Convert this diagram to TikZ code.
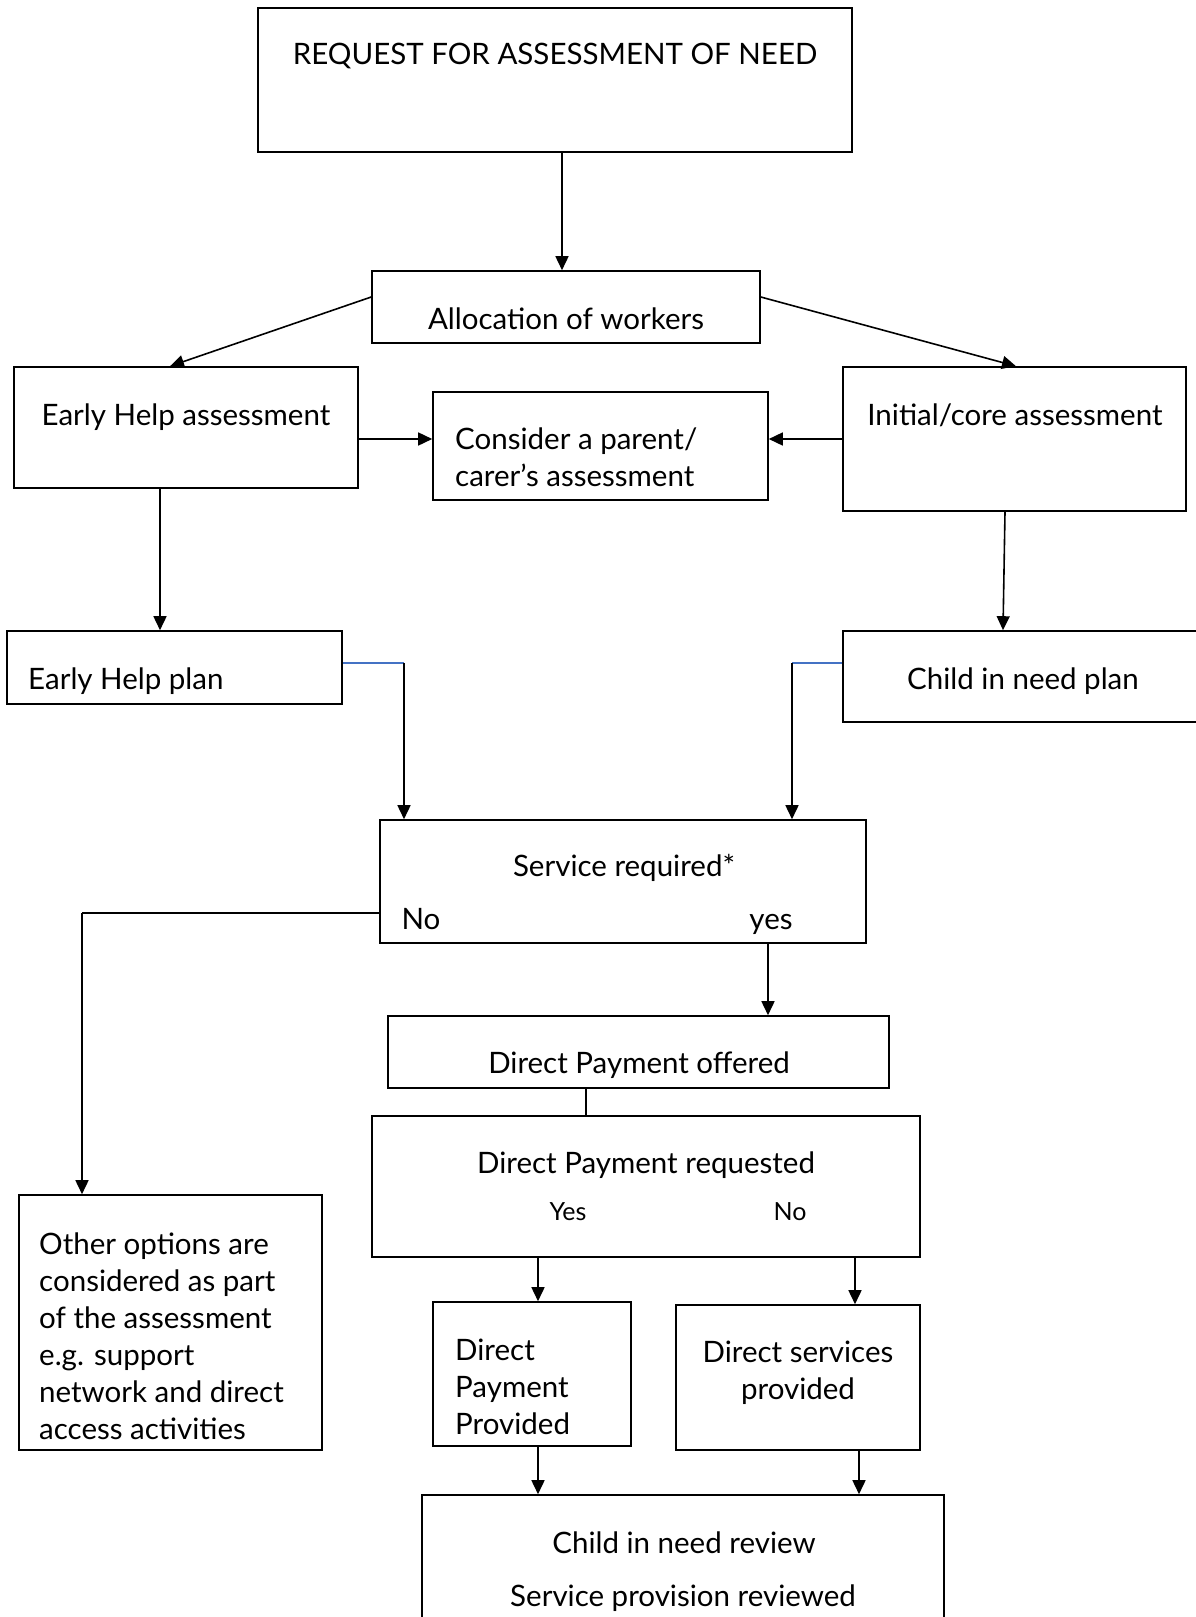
\documentclass[tikz,border=0pt]{standalone}
\usepackage{fontspec}
\setmainfont{Lato}
\usetikzlibrary{arrows.meta}
\definecolor{lblue}{HTML}{4472C4}
\begin{document}
\begin{tikzpicture}[x=1pt,y=-1pt,
  box/.style={draw, line width=1.6pt, inner sep=0pt},
  txt/.style={inner sep=0pt, font=\fontsize{29.5}{37}\selectfont},
  small/.style={inner sep=0pt, font=\fontsize{25}{30}\selectfont},
  ln/.style={line width=1.6pt},
  arr/.style={line width=1.6pt, -{Triangle[width=13pt,length=14pt]}},
  bl/.style={line width=1.6pt, lblue}]
\useasboundingbox (0,0) rectangle (1196,1617);
% boxes
\node[box, minimum width=594pt, minimum height=144pt] (top) at (555,80) {};
\node[box, minimum width=388pt, minimum height=72pt] (alloc) at (566,307) {};
\node[box, minimum width=344pt, minimum height=121pt] (eha) at (186,427.5) {};
\node[box, minimum width=335pt, minimum height=108pt] (cons) at (600.5,446) {};
\node[box, minimum width=343pt, minimum height=144pt] (ica) at (1014.5,439) {};
\node[box, minimum width=335pt, minimum height=73pt] (ehp) at (174.5,667.5) {};
\node[box, minimum width=387pt, minimum height=91pt] (cinp) at (1036.5,676.5) {};
\node[box, minimum width=486pt, minimum height=123pt] (svc) at (623,881.5) {};
\node[box, minimum width=501pt, minimum height=72pt] (dpo) at (638.5,1052) {};
\node[box, minimum width=548pt, minimum height=141pt] (dpr) at (646,1186.5) {};
\node[box, minimum width=303pt, minimum height=255pt] (other) at (170.5,1322.5) {};
\node[box, minimum width=198pt, minimum height=144pt] (dpp) at (532,1374) {};
\node[box, minimum width=244pt, minimum height=145pt] (dsp) at (798,1377.5) {};
\node[box, minimum width=522pt, minimum height=145pt] (rev) at (683,1567.5) {};
% texts
\node[txt] (ttop) at (555,56) {REQUEST FOR ASSESSMENT OF NEED};
\node[txt] (talloc) at (566,319) {Allocation of workers};
\node[txt] (teha) at (186,417) {Early Help assessment};
\node[txt, anchor=west, align=left] (tcons) at (455,457) {Consider a parent/\\carer’s assessment};
\node[txt] (tica) at (1015,415) {Initial/core assessment};
\node[txt, anchor=west] (tehp) at (28,681) {Early Help plan};
\node[txt] (tcinp) at (1023,681) {Child in need plan};
\node[txt] (tsvc) at (624,868) {Service required*};
\node[txt] (tno) at (421,919) {No};
\node[txt] (tyes) at (771,924) {yes};
\node[txt] (tdpo) at (639,1065) {Direct Payment offered};
\node[txt] (tdpr) at (646,1165) {Direct Payment requested};
\node[small] (tyes2) at (568,1212) {Yes};
\node[small] (tno2) at (790,1212) {No};
\node[txt, anchor=west, align=left] (tother) at (39,1336) {Other options are\\considered as part\\of the assessment\\e.g. support\\network and direct\\access activities};
\node[txt, anchor=west, align=left] (tdpp) at (455,1387) {Direct\\Payment\\Provided};
\node[txt, align=center] (tdsp) at (798,1373) {Direct services\\provided};
\node[txt] (trev1) at (684,1543) {Child in need review};
\node[txt] (trev2) at (683,1598) {Service provision reviewed};
% connectors
\draw[arr] ([xshift=7pt]top.south) -- ([xshift=-4pt]alloc.north);
\draw[arr] ([yshift=10pt]alloc.west) -- ([xshift=-16pt]eha.north);
\draw[arr] ([yshift=10pt]alloc.east) -- ([xshift=1.5pt]ica.north);
\draw[arr] ([yshift=-11.5pt]eha.east) -- ([yshift=7pt]cons.west);
\draw[arr] (ica.west) -- ([yshift=7pt]cons.east);
\coordinate (p1) at ([xshift=-26pt]eha.south);
\draw[arr] (p1) -- (p1 |- ehp.north);
\draw[arr] ([xshift=-9.5pt]ica.south) -- ([xshift=-33.5pt]cinp.north);
\coordinate (c1) at (404,663);
\draw[bl] ([yshift=4.5pt]ehp.east) -- (c1);
\draw[arr] (c1) -- (c1 |- svc.north);
\coordinate (c2) at (792,663);
\draw[bl] ([yshift=13.5pt]cinp.west) -- (c2);
\draw[arr] (c2) -- (c2 |- svc.north);
\coordinate (c3) at (82,913);
\draw[ln] ([yshift=-31.5pt]svc.west) -- (c3);
\draw[arr] (c3) -- (c3 |- other.north);
\coordinate (c4) at (768,943);
\draw[arr] (c4) -- (c4 |- dpo.north);
\coordinate (c5) at (586,1088);
\draw[ln] (c5) -- (c5 |- dpr.north);
\coordinate (c6) at (538,1257);
\draw[arr] (c6) -- (c6 |- dpp.north);
\coordinate (c7) at (855,1257);
\draw[arr] (c7) -- (c7 |- dsp.north);
\coordinate (c8) at (538,1446);
\draw[arr] (c8) -- (c8 |- rev.north);
\coordinate (c9) at (859,1450);
\draw[arr] (c9) -- (c9 |- rev.north);
\end{tikzpicture}
\end{document}
